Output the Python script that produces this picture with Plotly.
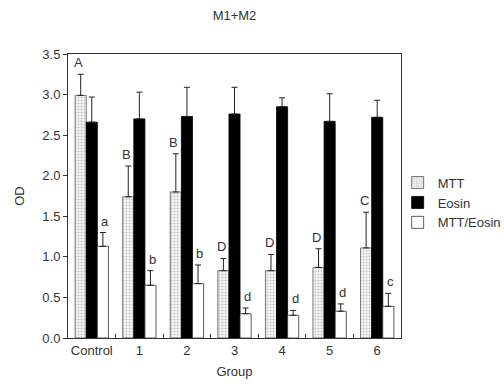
import plotly.graph_objects as go

groups = ["Control", "1", "2", "3", "4", "5", "6"]
mtt = [2.99, 1.74, 1.80, 0.83, 0.83, 0.87, 1.11]
mtt_err = [0.26, 0.38, 0.47, 0.15, 0.20, 0.23, 0.44]
eosin = [2.66, 2.70, 2.73, 2.76, 2.85, 2.67, 2.72]
eosin_err = [0.31, 0.33, 0.36, 0.33, 0.11, 0.34, 0.21]
ratio = [1.13, 0.65, 0.67, 0.30, 0.28, 0.33, 0.39]
ratio_err = [0.17, 0.18, 0.23, 0.07, 0.06, 0.09, 0.16]
mtt_letters = ["A", "B", "B", "D", "D", "D", "C"]
ratio_letters = ["a", "b", "b", "d", "d", "d", "c"]

FONT = "Liberation Sans"
TXT = "#333333"
LINE = "#333333"

def err(vals):
    return dict(type="data", array=vals, arrayminus=[0] * len(vals), symmetric=False,
                color="#222222", thickness=1, width=3)

fig = go.Figure()
fig.add_bar(x=groups, y=mtt, name="MTT", error_y=err(mtt_err),
            marker=dict(color="white", line=dict(color="#555555", width=0.8),
                        pattern=dict(shape=".", fgcolor="#8a8a8a", bgcolor="#f6f6f6",
                                     size=3, solidity=0.3)))
fig.add_bar(x=groups, y=eosin, name="Eosin", error_y=err(eosin_err),
            marker=dict(color="black", line=dict(color="black", width=0.8)))
fig.add_bar(x=groups, y=ratio, name="MTT/Eosin", error_y=err(ratio_err),
            marker=dict(color="white", line=dict(color="#333333", width=0.8)))

for i, g in enumerate(groups):
    fig.add_annotation(x=g, y=mtt[i] + mtt_err[i], text=mtt_letters[i], showarrow=False,
                       xshift=-13, yshift=2, yanchor="bottom",
                       font=dict(family=FONT, size=13, color=TXT))
    fig.add_annotation(x=g, y=ratio[i] + ratio_err[i], text=ratio_letters[i], showarrow=False,
                       xshift=13, yshift=2, yanchor="bottom",
                       font=dict(family=FONT, size=13, color=TXT))

fig.update_layout(
    width=504, height=384,
    margin=dict(l=68, r=103, t=54, b=46, autoexpand=False),
    paper_bgcolor="white", plot_bgcolor="white",
    barmode="group", bargap=0.3, bargroupgap=0,
    font=dict(family=FONT, size=13, color=TXT),
    title=dict(text="M1+M2", x=0.5, xref="paper", xanchor="center", y=0.96, yanchor="middle",
               font=dict(family=FONT, size=13, color=TXT)),
    showlegend=True,
    legend=dict(x=0.99, y=0.60, xanchor="left", yanchor="top", bgcolor="rgba(0,0,0,0)",
                font=dict(family=FONT, size=13, color=TXT), itemwidth=30),
)
fig.update_xaxes(title=dict(text="Group", standoff=10, font=dict(family=FONT, size=13, color=TXT)),
                 tickangle=0, tickfont=dict(family=FONT, size=13, color=TXT),
                 showline=True, linecolor=LINE, linewidth=1,
                 mirror=True, ticks="inside", ticklen=4, tickcolor=LINE,
                 tickson="boundaries", showgrid=False)
fig.update_yaxes(title=dict(text="OD", standoff=14, font=dict(family=FONT, size=13, color=TXT)),
                 tickfont=dict(family=FONT, size=13, color=TXT),
                 range=[0, 3.5], dtick=0.5, tickformat=".1f",
                 showline=True, linecolor=LINE, linewidth=1, mirror=True,
                 ticks="outside", ticklen=4, tickcolor=LINE, showgrid=False, zeroline=False)

fig.write_html("out.html", config={"displayModeBar": False},
               post_script="document.body.style.margin='0';")
